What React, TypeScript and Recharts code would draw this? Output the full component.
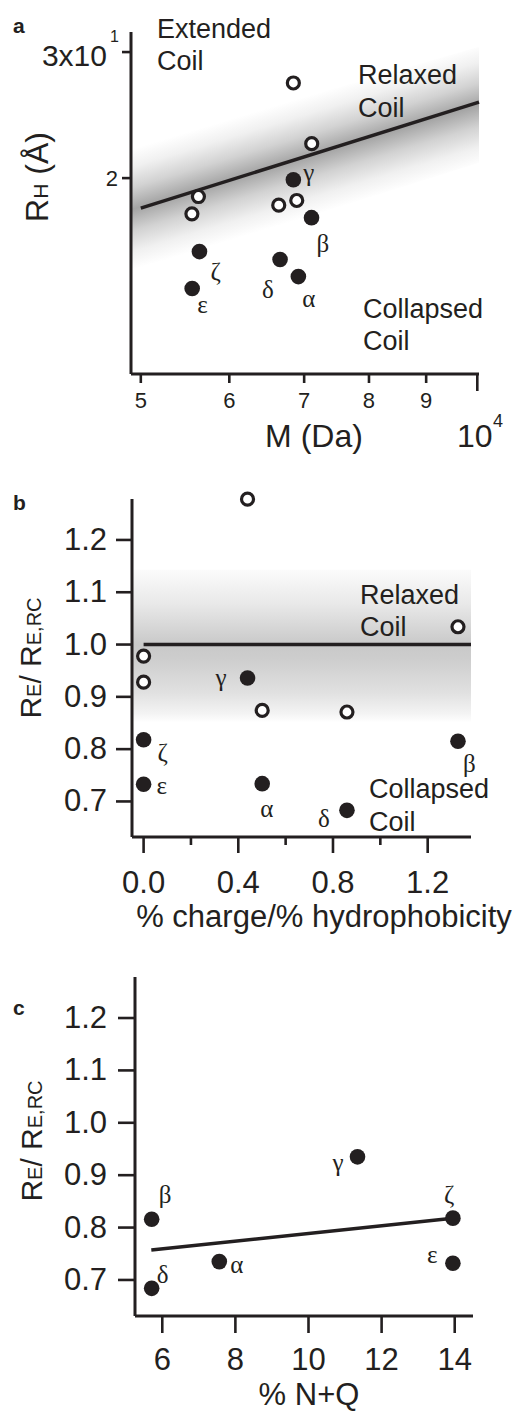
import React from 'react';
import { ComposedChart, Scatter, Line, Area, XAxis, YAxis, ReferenceArea } from 'recharts';

const INK = '#231f20';
const SANS = '"Liberation Sans", Arial, Helvetica, sans-serif';
const SERIF = '"Liberation Serif", "Times New Roman", serif';

// ---- panel a: R_H vs M (log-log) ----
const massOpenA = [68460, 71100, 56300, 55550, 66430, 68940];
const rhOpenA = [27.16, 22.34, 18.85, 17.83, 18.33, 18.61];
const namesA = ['γ', 'β', 'ζ', 'ε', 'δ', 'α'];
const massFilledA = [68460, 71070, 56420, 55580, 66610, 69170];
const rhFilledA = [19.89, 17.61, 15.79, 14.02, 15.39, 14.57];
const fitMassA = [50000, 100350];
const fitRhA = [18.16, 25.54];
const bandMassA = [49000, 100350];
const bandLowA = [14.75, 21.01];
const bandHighA = [22.12, 30.52];
const massTicks = [50000, 60000, 70000, 80000, 90000, 100000];
const rhTicks = [20, 30];

// ---- panel b: R_E/R_E,RC vs % charge/% hydrophobicity ----
const chargeOpenB = [0.439, 1.328, 0, 0, 0.501, 0.859];
const ratioOpenB = [1.278, 1.034, 0.978, 0.928, 0.874, 0.871];
const namesB = ['γ', 'ζ', 'β', 'ε', 'α', 'δ'];
const chargeFilledB = [0.439, 0, 1.328, 0, 0.501, 0.859];
const ratioFilledB = [0.936, 0.818, 0.815, 0.733, 0.734, 0.683];
const refLineXB = [0, 1.383];
const refLineYB = [1.0, 1.0];
const chargeTicks = [0, 0.2, 0.4, 0.6, 0.8, 1.0, 1.2];
const ratioTicks = [0.7, 0.8, 0.9, 1.0, 1.1, 1.2];

// ---- panel c: R_E/R_E,RC vs % N+Q ----
const namesC = ['β', 'δ', 'α', 'γ', 'ζ', 'ε'];
const nqC = [5.71, 5.71, 7.56, 11.34, 13.95, 13.95];
const ratioC = [0.816, 0.684, 0.735, 0.935, 0.818, 0.732];
const fitNqC = [5.7, 13.95];
const fitRatioC = [0.757, 0.818];
const nqTicks = [6, 8, 10, 12, 14];

const pts = (xs: number[], ys: number[], names?: string[]) =>
  xs.map((x, i) => ({ x, y: ys[i], name: names ? names[i] : '' }));

// label placement (text start / baseline relative to the dot)
const offA: Record<string, number[]> = { 'γ': [10, 1], 'β': [5, 34], 'ζ': [11, 28], 'ε': [5, 24], 'δ': [-18, 38], 'α': [4, 30] };
const offB: Record<string, number[]> = { 'γ': [-32, 8], 'ζ': [14, 21], 'ε': [13, 10], 'α': [-2, 33], 'δ': [-29, 17], 'β': [5, 31] };
const offC: Record<string, number[]> = { 'β': [7, -16], 'δ': [5, -5], 'α': [11, 11], 'γ': [-25, 14], 'ζ': [-9, -15], 'ε': [-26, 0] };

const openDot = (p: any) => (
  <circle cx={p.cx} cy={p.cy} r={6} fill="#fff" stroke={INK} strokeWidth={3.2} />
);

const filledDot = (off: Record<string, number[]>) => (p: any) => {
  const o = off[p.payload.name] || [8, 0];
  return (
    <g>
      <circle cx={p.cx} cy={p.cy} r={7.8} fill={INK} />
      <text x={p.cx + o[0]} y={p.cy + o[1]} fontFamily={SERIF} fontSize={25} fill={INK}>
        {p.payload.name}
      </text>
    </g>
  );
};

const txt = { fontFamily: SANS, fill: INK };

const MassTick = ({ x, y, payload }: any) => {
  const v = payload.value;
  const decade = v >= 100000;
  return (
    <g>
      <line x1={x} x2={x} y1={y} y2={y + (decade ? 17 : 9)} stroke={INK} strokeWidth={2.6} />
      {!decade && (
        <text x={x} y={y + 34} textAnchor="middle" fontSize={22} {...txt}>{v / 10000}</text>
      )}
    </g>
  );
};

const RhTick = ({ x, y, payload }: any) => (
  <g>
    <line x1={x - 9} x2={x} y1={y} y2={y} stroke={INK} strokeWidth={2.6} />
    {payload.value === 20 ? (
      <text x={x - 13} y={y + 8} textAnchor="end" fontSize={22} {...txt}>2</text>
    ) : (
      <g>
        <text x={x - 24} y={y + 14} textAnchor="end" fontSize={30} {...txt}>3x10</text>
        <text x={x - 21} y={y - 10} fontSize={16} {...txt}>1</text>
      </g>
    )}
  </g>
);

const ChargeTick = ({ x, y, payload }: any) => {
  const v = payload.value;
  const major = Math.round(v * 10) % 4 === 0;
  return (
    <g>
      <line x1={x} x2={x} y1={y} y2={y + (major ? 16 : 8)} stroke={INK} strokeWidth={2.6} />
      {major && (
        <text x={x} y={y + 56} textAnchor="middle" fontSize={31} {...txt}>{v.toFixed(1)}</text>
      )}
    </g>
  );
};

const NqTick = ({ x, y, payload }: any) => (
  <g>
    <line x1={x} x2={x} y1={y} y2={y + 17} stroke={INK} strokeWidth={2.6} />
    <text x={x} y={y + 54} textAnchor="middle" fontSize={31} {...txt}>{payload.value}</text>
  </g>
);

const ratioTick = (len: number, gap: number) => ({ x, y, payload }: any) => (
  <g>
    <line x1={x - len} x2={x} y1={y} y2={y} stroke={INK} strokeWidth={2.6} />
    <text x={x - len - gap} y={y + 10} textAnchor="end" fontSize={31} {...txt}>
      {payload.value.toFixed(1)}
    </text>
  </g>
);

const axisLine = { stroke: INK, strokeWidth: 3 };

const PanelA = () => {
  const band = bandMassA.map((x, i) => ({ x, band: [bandLowA[i], bandHighA[i]] }));
  return (
    <ComposedChart width={522} height={460} margin={{ top: 32, right: 43, bottom: 46, left: 0 }}>
      <defs>
        <linearGradient id="bandA" x1="0.3977" y1="0.2687" x2="0.6023" y2="0.7091">
          <stop offset="0" stopColor="#ffffff" />
          <stop offset="0.15" stopColor="#f0f0f0" />
          <stop offset="0.32" stopColor="#d2d2d2" />
          <stop offset="0.5" stopColor="#a4a4a4" />
          <stop offset="0.68" stopColor="#d2d2d2" />
          <stop offset="0.85" stopColor="#f0f0f0" />
          <stop offset="1" stopColor="#ffffff" />
        </linearGradient>
      </defs>
      <XAxis type="number" dataKey="x" scale="log" domain={[49000, 100350]} ticks={massTicks}
        interval={0} tick={MassTick} tickLine={false} tickSize={0} tickMargin={0} height={40} axisLine={axisLine} />
      <YAxis type="number" scale="log" domain={[10.65, 32.0]} ticks={rhTicks} interval={0}
        tick={RhTick} tickLine={false} tickSize={0} tickMargin={0} width={131} axisLine={axisLine} />
      <Area data={band} dataKey="band" type="linear" stroke="none" fill="url(#bandA)" fillOpacity={1}
        dot={false} activeDot={false} isAnimationActive={false} />
      <Line data={pts(fitMassA, fitRhA)} dataKey="y" type="linear" stroke={INK} strokeWidth={3.5}
        dot={false} activeDot={false} isAnimationActive={false} />
      <Scatter data={pts(massOpenA, rhOpenA)} dataKey="y" shape={openDot} isAnimationActive={false} />
      <Scatter data={pts(massFilledA, rhFilledA, namesA)} dataKey="y" shape={filledDot(offA)} isAnimationActive={false} />
    </ComposedChart>
  );
};

const PanelB = () => (
  <ComposedChart width={522} height={480} margin={{ top: 39, right: 51, bottom: 63, left: 0 }}>
    <defs>
      <linearGradient id="bandB" x1="0" y1="0" x2="0" y2="1">
        <stop offset="0" stopColor="#fbfbfb" />
        <stop offset="0.22" stopColor="#e9e9e9" />
        <stop offset="0.49" stopColor="#c9c9c9" />
        <stop offset="0.58" stopColor="#cdcdcd" />
        <stop offset="0.8" stopColor="#e0e0e0" />
        <stop offset="0.94" stopColor="#f3f3f3" />
        <stop offset="1" stopColor="#ffffff" />
      </linearGradient>
    </defs>
    <XAxis type="number" dataKey="x" domain={[-0.049, 1.383]} ticks={chargeTicks} interval={0}
      tick={ChargeTick} tickLine={false} tickSize={0} tickMargin={0} height={40} axisLine={axisLine} />
    <YAxis type="number" domain={[0.632, 1.2783]} ticks={ratioTicks} interval={0}
      tick={ratioTick(16, 9)} tickLine={false} tickSize={0} tickMargin={0} width={132} axisLine={axisLine} />
    <ReferenceArea y1={0.851} y2={1.143} fill="url(#bandB)" fillOpacity={1} stroke="none" />
    <Line data={pts(refLineXB, refLineYB)} dataKey="y" type="linear" stroke={INK} strokeWidth={3.5}
      dot={false} activeDot={false} isAnimationActive={false} />
    <Scatter data={pts(chargeOpenB, ratioOpenB)} dataKey="y" shape={openDot} isAnimationActive={false} />
    <Scatter data={pts(chargeFilledB, ratioFilledB, namesB)} dataKey="y" shape={filledDot(offB)} isAnimationActive={false} />
  </ComposedChart>
);

const PanelC = () => (
  <ComposedChart width={522} height={473} margin={{ top: 37, right: 49, bottom: 57, left: 0 }}>
    <XAxis type="number" dataKey="x" domain={[5.254, 14.5]} ticks={nqTicks} interval={0}
      tick={NqTick} tickLine={false} tickSize={0} tickMargin={0} height={40} axisLine={axisLine} />
    <YAxis type="number" domain={[0.6312, 1.2783]} ticks={ratioTicks} interval={0}
      tick={ratioTick(17, 11)} tickLine={false} tickSize={0} tickMargin={0} width={135} axisLine={axisLine} />
    <Line data={pts(fitNqC, fitRatioC)} dataKey="y" type="linear" stroke={INK} strokeWidth={3.5}
      dot={false} activeDot={false} isAnimationActive={false} />
    <Scatter data={pts(nqC, ratioC, namesC)} dataKey="y" shape={filledDot(offC)} isAnimationActive={false} />
  </ComposedChart>
);

const Annotations = () => (
  <svg width={522} height={1413} style={{ position: 'absolute', left: 0, top: 0, pointerEvents: 'none' }}>
    <g fontFamily={SANS} fill={INK}>
      <text x={13} y={33} fontSize={21} fontWeight="bold">a</text>
      <text x={13} y={510} fontSize={21} fontWeight="bold">b</text>
      <text x={13} y={1015} fontSize={21} fontWeight="bold">c</text>

      <g fontSize={27}>
        <text x={157} y={38}>Extended</text>
        <text x={157} y={70}>Coil</text>
        <text x={358} y={84}>Relaxed</text>
        <text x={358} y={117}>Coil</text>
        <text x={363} y={318}>Collapsed</text>
        <text x={363} y={350}>Coil</text>

        <text x={360} y={604}>Relaxed</text>
        <text x={360} y={636}>Coil</text>
        <text x={369} y={798}>Collapsed</text>
        <text x={369} y={831}>Coil</text>
      </g>

      <text transform="translate(48 177) rotate(-90)" textAnchor="middle">
        <tspan fontSize={32}>R</tspan>
        <tspan fontSize={21}>H</tspan>
        <tspan fontSize={32}> (Å)</tspan>
      </text>
      <text x={314} y={447} textAnchor="middle" fontSize={32}>M (Da)</text>
      <text x={457} y={447} fontSize={32}>10</text>
      <text x={493} y={427} fontSize={18}>4</text>

      <text transform="translate(41 658) rotate(-90)" textAnchor="middle">
        <tspan fontSize={30}>R</tspan>
        <tspan fontSize={20}>E</tspan>
        <tspan fontSize={30}>/ R</tspan>
        <tspan fontSize={20}>E,RC</tspan>
      </text>
      <text x={324} y={927} textAnchor="middle" fontSize={31}>% charge/% hydrophobicity</text>

      <text transform="translate(42 1141) rotate(-90)" textAnchor="middle">
        <tspan fontSize={30}>R</tspan>
        <tspan fontSize={20}>E</tspan>
        <tspan fontSize={30}>/ R</tspan>
        <tspan fontSize={20}>E,RC</tspan>
      </text>
      <text x={309} y={1405} textAnchor="middle" fontSize={31}>% N+Q</text>
    </g>
  </svg>
);

export default function App() {
  return (
    <div style={{ position: 'absolute', left: 0, top: 0, width: 522, height: 1413, background: '#fff' }}>
      <div style={{ position: 'absolute', left: 0, top: 0 }}><PanelA /></div>
      <div style={{ position: 'absolute', left: 0, top: 460 }}><PanelB /></div>
      <div style={{ position: 'absolute', left: 0, top: 940 }}><PanelC /></div>
      <Annotations />
    </div>
  );
}
